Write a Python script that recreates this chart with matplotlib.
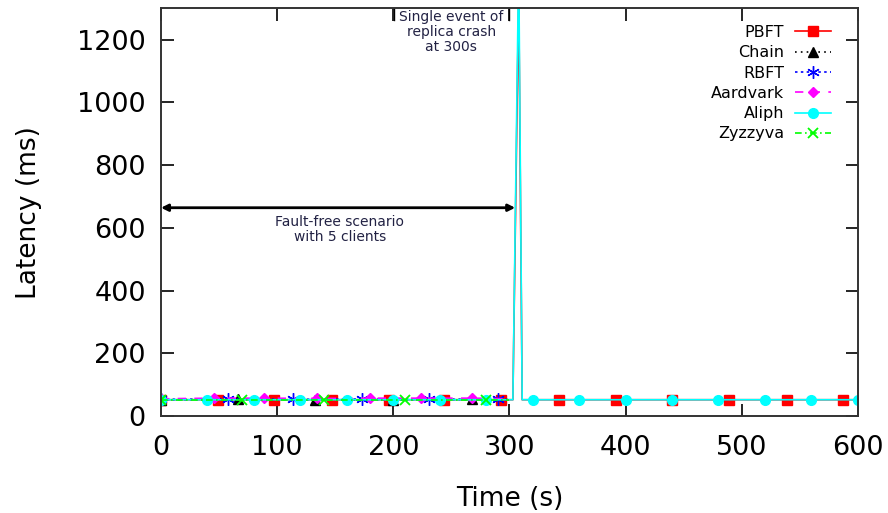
import numpy as np
import matplotlib
matplotlib.use("Agg")
import matplotlib.pyplot as plt

# latency samples per protocol (time in s, latency in ms)
pbft_t = [0, 49, 97, 147, 196, 244, 293, 303, 308, 311, 343, 392, 440, 489, 539, 587, 600]
pbft_y = [52, 52, 52, 52, 52, 52, 52, 52, 1350, 52, 52, 52, 52, 52, 52, 52, 52]
pbft_mark = [0, 1, 2, 3, 4, 5, 6, 10, 11, 12, 13, 14, 15]

chain_t = [0, 66, 133, 200, 268, 300]
chain_y = [52, 53, 52, 52, 53, 52]
chain_mark = [0, 1, 2, 3, 4]

rbft_t = [0, 58, 114, 173, 231, 290, 300]
rbft_y = [53, 54, 53, 54, 53, 53, 53]
rbft_mark = [0, 1, 2, 3, 4, 5]

aard_t = [0, 46, 89, 134, 180, 224, 268, 300]
aard_y = [55, 57, 57, 56, 57, 57, 57, 55]
aard_mark = [0, 1, 2, 3, 4, 5, 6]

aliph_t = [0, 40, 80, 120, 160, 200, 240, 280, 303, 308, 311,
           320, 360, 400, 440, 480, 520, 560, 600]
aliph_y = [52, 52, 52, 52, 52, 52, 52, 52, 52, 1450, 52,
           52, 52, 52, 52, 52, 52, 52, 52]
aliph_mark = [0, 1, 2, 3, 4, 5, 6, 7, 11, 12, 13, 14, 15, 16, 17, 18]

zyz_t = [0, 70, 140, 210, 280, 300]
zyz_y = [50, 50, 50, 50, 50, 50]
zyz_mark = [0, 1, 2, 3, 4]

fig = plt.figure(figsize=(8.88, 5.13), dpi=100)
ax = fig.add_axes([0.1813, 0.189, 0.7847, 0.795])

ax.plot(pbft_t, pbft_y, color='red', ls='-', lw=1.2, marker='s', ms=7,
        markevery=pbft_mark, label='PBFT')
ax.plot(chain_t, chain_y, color='black', ls=(0, (1, 2.5)), lw=1.2, marker='^', ms=7,
        markevery=chain_mark, label='Chain')
ax.plot(rbft_t, rbft_y, color='blue', ls=(0, (1.5, 2)), lw=1.2, marker=(6, 2, 0), ms=9,
        markevery=rbft_mark, label='RBFT')
ax.plot(aard_t, aard_y, color='magenta', ls=(0, (5, 5)), lw=1.2, marker='D', ms=5,
        markevery=aard_mark, label='Aardvark')
ax.plot(aliph_t, aliph_y, color='cyan', ls='-', lw=1.2, marker='o', ms=7,
        markevery=aliph_mark, label='Aliph')
ax.plot(zyz_t, zyz_y, color='lime', ls=(0, (4, 2, 1, 2)), lw=1.2, marker='x', ms=7, mew=1.3,
        markevery=zyz_mark, label='Zyzzyva')

ax.set_xlim(0, 600)
ax.set_ylim(0, 1300)
ax.set_xticks(np.arange(0, 601, 100))
ax.set_yticks(np.arange(0, 1201, 200))
ax.tick_params(direction='in', top=True, right=True, length=9, width=1.2,
               labelsize=19.5)
ax.tick_params(axis='x', pad=14)
ax.tick_params(axis='y', pad=11)
for s in ax.spines.values():
    s.set_linewidth(1.4)
    s.set_color('#333333')

ax.set_xlabel('Time (s)', fontsize=19, labelpad=17.5)
ax.set_ylabel('Latency (ms)', fontsize=19, labelpad=25)

# fault-free window
ax.annotate('', xy=(305, 664), xytext=(0, 664),
            arrowprops=dict(arrowstyle='<|-|>', color='black', lw=2,
                            mutation_scale=10, shrinkA=0, shrinkB=0))
ax.text(154, 640, 'Fault-free scenario\nwith 5 clients', ha='center', va='top',
        fontsize=10, color='#222244', linespacing=1.1)

# crash event marker
ax.plot([200.5, 200.5], [1262, 1300], color='black', lw=1)
ax.plot([299.5, 299.5], [1262, 1300], color='black', lw=1)
ax.text(250, 1295, 'Single event of\nreplica crash\nat 300s', ha='center', va='top',
        fontsize=10, color='#222244', linespacing=1.1)

leg = ax.legend(loc='upper right', bbox_to_anchor=(0.98, 0.99), frameon=False,
                markerfirst=False, fontsize=11.5, handlelength=2.25,
                labelspacing=0.33, borderaxespad=0.4, handletextpad=0.7)

fig.savefig('out.png', dpi=100)
